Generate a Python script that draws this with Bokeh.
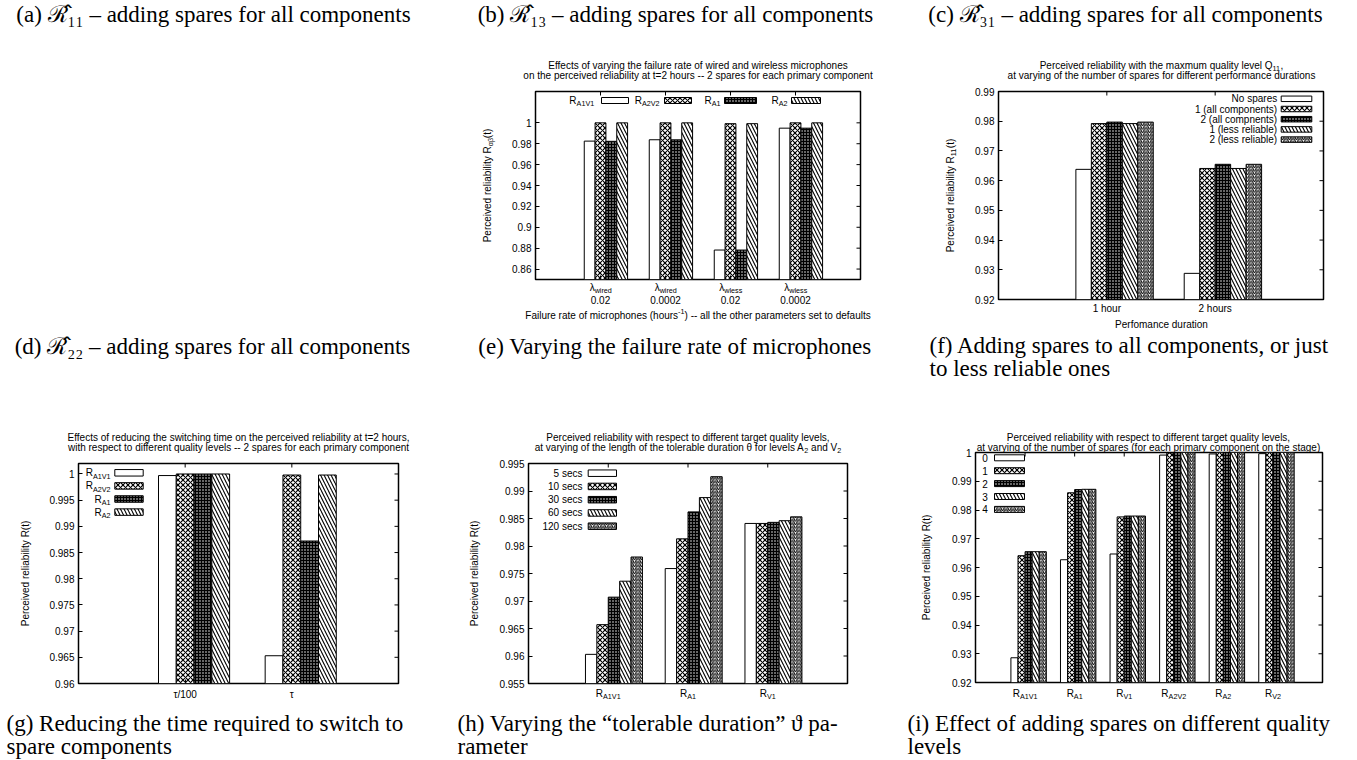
import math
from bokeh.plotting import figure
from bokeh.layouts import column, row
from bokeh.models import Range1d, Label, LinearAxis, FixedTicker, NumeralTickFormatter, Spacer
from bokeh.embed import file_html
from bokeh.resources import INLINE

SANS = "Liberation Sans"
SERIF = "Liberation Serif"

# ---------------- data ----------------
# (e) failure rate of microphones
e_rate_kind = ["wired", "wired", "wless", "wless"]
e_rate_value = ["0.02", "0.0002", "0.02", "0.0002"]
e_R_A1V1 = [0.9825, 0.9838, 0.8782, 0.9949]
e_R_A2V2 = [0.99998, 0.99998, 0.9992, 0.99998]
e_R_A1 = [0.9823, 0.9837, 0.8782, 0.9949]
e_R_A2 = [0.99998, 0.99998, 0.9992, 0.99998]
e_series_sub = ["A1V1", "A2V2", "A1", "A2"]
e_yticks = [0.86, 0.88, 0.9, 0.92, 0.94, 0.96, 0.98, 1.0]

# (f) spares for all / less reliable components
f_durations = ["1 hour", "2 hours"]
f_no_spares = [0.9638, 0.9288]
f_one_all = [0.9792, 0.9641]
f_two_all = [0.9797, 0.9655]
f_one_less = [0.9792, 0.9641]
f_two_less = [0.9797, 0.9655]
f_series = ["No spares", "1 (all components)", "2 (all compnents)", "1 (less reliable)", "2 (less reliable)"]
f_yticks = [0.92, 0.93, 0.94, 0.95, 0.96, 0.97, 0.98, 0.99]

# (g) switching time
g_switch = ["\u03c4/100", "\u03c4"]
g_R_A1V1 = [0.9997, 0.9653]
g_R_A2V2 = [1.0, 0.9998]
g_R_A1 = [1.0, 0.9872]
g_R_A2 = [1.0, 0.9998]
g_series_sub = ["A1V1", "A2V2", "A1", "A2"]
g_yticks = [0.96, 0.965, 0.97, 0.975, 0.98, 0.985, 0.99, 0.995, 1.0]

# (h) tolerable duration
h_levels_sub = ["A1V1", "A1", "V1"]
h_5 = [0.9603, 0.9759, 0.9841]
h_10 = [0.9657, 0.9813, 0.9841]
h_30 = [0.9707, 0.9862, 0.9843]
h_60 = [0.9736, 0.9888, 0.9846]
h_120 = [0.9780, 0.9926, 0.9853]
h_series = ["5 secs", "10 secs", "30 secs", "60 secs", "120 secs"]
h_yticks = [0.955, 0.96, 0.965, 0.97, 0.975, 0.98, 0.985, 0.99, 0.995]

# (i) number of spares per quality level
i_levels_sub = ["A1V1", "A1", "V1", "A2V2", "A2", "V2"]
i_0 = [0.9286, 0.9627, 0.9647, 0.9991, 0.9995, 0.9996]
i_1 = [0.9641, 0.9860, 0.9776, 0.9998, 0.99998, 0.99998]
i_2 = [0.9655, 0.9871, 0.9779, 1.0, 1.0, 1.0]
i_3 = [0.9655, 0.9872, 0.9779, 1.0, 1.0, 1.0]
i_4 = [0.9655, 0.9872, 0.9779, 1.0, 1.0, 1.0]
i_series = ["0", "1", "2", "3", "4"]
i_yticks = [0.92, 0.93, 0.94, 0.95, 0.96, 0.97, 0.98, 0.99, 1.0]

# ---------------- styles ----------------
STY = [
    dict(fill_color="white"),
    dict(fill_color="white", hatch_pattern="diagonal_cross", hatch_color="black", hatch_scale=5, hatch_weight=1.2),
    dict(fill_color="black", hatch_pattern="dot", hatch_color="white", hatch_scale=3, hatch_weight=1.0),
    dict(fill_color="white", hatch_pattern="left_diagonal_line", hatch_color="black", hatch_scale=7, hatch_weight=1.1),
    dict(fill_color="white", hatch_pattern="right_diagonal_line", hatch_color="black", hatch_scale=3.5, hatch_weight=1.0),
]

CW = {' ': .278, '\u00a0': .278, '(': .333, ')': .333, '.': .278, ',': .278, '-': .333, '=': .584, '/': .278,
      'A': .667, 'V': .667, 'R': .722, 'P': .667, 'Q': .778, 'F': .611,
      'a': .556, 'b': .556, 'c': .5, 'd': .556, 'e': .556, 'f': .278, 'g': .556, 'h': .556,
      'i': .222, 'j': .222, 'k': .5, 'l': .222, 'm': .833, 'n': .556, 'o': .556, 'p': .556,
      'q': .556, 'r': .333, 's': .5, 't': .278, 'u': .556, 'v': .5, 'w': .722, 'x': .5,
      'y': .5, 'z': .5}


def text_w(s, size):
    return sum(CW.get(c, 0.556) for c in s) * size


def base_fig(w, h, xr, yr, bl, br, bt, bb):
    p = figure(width=w, height=h, x_range=Range1d(*xr), y_range=Range1d(*yr),
               min_border_left=bl, min_border_right=br, min_border_top=bt, min_border_bottom=bb,
               toolbar_location=None, output_backend="svg", x_axis_type=None, y_axis_type=None)
    try:
        p.frame_align = False
    except Exception:
        pass
    return p


class Panel:
    """A chart cell; fl/fr/ft/fb are the frame edges in page pixels."""
    def __init__(self, fx0, fy0, w, h, fl, fr, ft, fb, xr, yr):
        self.fl, self.fr, self.ft, self.fb = fl, fr, ft, fb
        self.xr, self.yr = xr, yr
        self.p = base_fig(w, h, xr, yr, fl - fx0, fx0 + w - fr, ft - fy0, fy0 + h - fb)
        self.p.outline_line_color = "black"
        self.p.outline_line_width = 1.5
        self.p.background_fill_color = "white"
        self.p.border_fill_color = "white"

    def dx(self, px):
        return self.xr[0] + (px - self.fl) / (self.fr - self.fl) * (self.xr[1] - self.xr[0])

    def dy(self, py):
        return self.yr[0] + (self.fb - py) / (self.fb - self.ft) * (self.yr[1] - self.yr[0])

    def tick_px(self, i):
        return self.fl + (i - self.xr[0]) / (self.xr[1] - self.xr[0]) * (self.fr - self.fl)


class Page:
    """Full-page transparent text layer: data units == page pixels."""
    def __init__(self):
        p = figure(width=1357, height=760, x_range=Range1d(0, 1357), y_range=Range1d(760, 0),
                   min_border=0, toolbar_location=None, output_backend="svg",
                   x_axis_type=None, y_axis_type=None)
        p.outline_line_color = None
        p.background_fill_color = None
        p.border_fill_color = None
        try:
            p.frame_align = False
        except Exception:
            pass
        self.p = p

    def dx(self, px):
        return px

    def dy(self, py):
        return py


def put(L, px, py, text, size=10, align="center", baseline="middle", angle=0.0, font=SANS):
    L.p.add_layout(Label(x=L.dx(px), y=L.dy(py), text=text, text_font=font,
                         text_font_size=f"{size:.1f}px", text_align=align,
                         text_baseline=baseline, angle=angle, text_color="black"))


def rich(L, px, py, parts, size=10, align="center", angle=0.0):
    """Text with sub/superscripts; the first piece is right-aligned at its end,
    the following pieces are left-aligned after it, so width errors do not open gaps."""
    sizes = {"n": size, "sub": size * 0.72, "sup": size * 0.72}
    shifts = {"n": 0.0, "sub": size * 0.32, "sup": -size * 0.38}
    parts = [(t.replace(" ", "\u00a0") if t.startswith(" ") else t, k) for t, k in parts]
    widths = [text_w(t, sizes[k]) for t, k in parts]
    W = sum(widths)
    u0 = {"left": 0.0, "center": -W / 2, "right": -W}[align]
    ax, ay = math.cos(angle), -math.sin(angle)
    nx, ny = math.sin(angle), math.cos(angle)
    u = u0 + widths[0]
    t, k = parts[0]
    put(L, px + ax * u + nx * shifts[k], py + ay * u + ny * shifts[k], t, sizes[k],
        align="right", baseline="middle", angle=angle)
    for (t, k), w in zip(parts[1:], widths[1:]):
        put(L, px + ax * u + nx * shifts[k], py + ay * u + ny * shifts[k], t, sizes[k],
            align="left", baseline="middle", angle=angle)
        u += w


def axes(P, yticks, nx, xlabels=None, xstandoff=3):
    p = P.p
    common = dict(axis_line_color=None, major_tick_in=4, major_tick_out=0,
                  minor_tick_line_color=None, major_tick_line_color="black",
                  major_label_text_font=SANS, major_label_text_color="black",
                  major_label_text_font_size="10px")
    p.add_layout(LinearAxis(ticker=FixedTicker(ticks=yticks), formatter=NumeralTickFormatter(format="0.[000]"),
                            major_label_standoff=4, **common), "left")
    if xlabels:
        bx = LinearAxis(ticker=FixedTicker(ticks=list(range(nx))), major_label_standoff=xstandoff, **common)
        bx.major_label_overrides = {i: t for i, t in enumerate(xlabels)}
        p.add_layout(bx, "below")


def mirror_ticks(P, yticks, nx, bottom=True):
    p = P.p
    p.scatter(x=[P.xr[1]] * len(yticks), y=yticks, marker="dash", size=8, line_color="black", line_width=1)
    xs = list(range(nx))
    p.scatter(x=xs, y=[P.yr[1]] * nx, marker="dash", angle=math.pi / 2, size=8, line_color="black", line_width=1)
    if bottom:
        p.scatter(x=xs, y=[P.yr[0]] * nx, marker="dash", angle=math.pi / 2, size=8, line_color="black", line_width=1)


def bars(P, series_values):
    n = len(series_values)
    bw = 1.0 / (n + 2)
    for j, vals in enumerate(series_values):
        xs = [i + bw / 2 + (j - (n - 1) / 2) * bw for i in range(len(vals))]
        P.p.vbar(x=xs, top=vals, bottom=P.yr[0], width=bw, line_color="black", line_width=1, **STY[j])


def swatch(P, j, bx0, bx1, y, bh):
    P.p.quad(left=P.dx(bx0), right=P.dx(bx1), top=P.dy(y - bh / 2), bottom=P.dy(y + bh / 2),
             line_color="black", line_width=1, **STY[j])


CAP = 23
T = Page()

# ---------------- captions of the empty cells ----------------
put(T, 213, 14, "(a) \u211b\u0302\u2081\u2081 \u2013 adding spares for all components", CAP, font=SERIF)
put(T, 212, 346, "(d) \u211b\u0302\u2082\u2082 \u2013 adding spares for all components", CAP, font=SERIF)

# ---------------- (e) ----------------
E = Panel(452, 0, 452, 392, 535, 860, 91, 279, (-1, len(e_rate_kind)), (0.85, 1.03))
axes(E, e_yticks, len(e_rate_kind))
bars(E, [e_R_A1V1, e_R_A2V2, e_R_A1, e_R_A2])
mirror_ticks(E, e_yticks, len(e_rate_kind))
for j, (lab, tend, b0, b1) in enumerate(zip(e_series_sub, [593.7, 659, 720, 787],
                                              [601, 664, 724, 791], [628, 691, 756, 820])):
    rich(E, tend, 100, [("R", "n"), (lab, "sub")], align="right")
    swatch(E, j, b0, b1, 100, 6)
put(T, 697.5, 64.5, "Effects of varying the failure rate of wired and wireless microphones")
put(T, 697.5, 74.5, "on the perceived reliability at t=2 hours -- 2 spares for each primary component")
rich(T, 487, 185, [("Perceived reliability R", "n"), ("\u03b1\u03b2", "sub"), ("(t)", "n")], angle=math.pi / 2)
for i, (k, v) in enumerate(zip(e_rate_kind, e_rate_value)):
    tx = E.tick_px(i)
    rich(T, tx, 287, [("\u03bb", "n"), (k, "sub")])
    put(T, tx, 299, v)
rich(T, 697.5, 315, [("Failure rate of microphones (hours", "n"), ("-1", "sup"),
                     (") -- all the other parameters set to defaults", "n")])
put(T, 675, 14, "(b) \u211b\u0302\u2081\u2083 \u2013 adding spares for all components", CAP, font=SERIF)
put(T, 674.5, 346, "(e) Varying the failure rate of microphones", CAP, font=SERIF)

# ---------------- (f) ----------------
F = Panel(904, 0, 453, 392, 998, 1323, 91, 299, (-1, len(f_durations)), (0.92, 0.99))
axes(F, f_yticks, len(f_durations), xlabels=f_durations, xstandoff=3)
bars(F, [f_no_spares, f_one_all, f_two_all, f_one_less, f_two_less])
mirror_ticks(F, f_yticks, len(f_durations), bottom=False)
for j, lab in enumerate(f_series):
    y = 98.3 + 10.2 * j
    put(F, 1276.7, y, lab, align="right")
    swatch(F, j, 1280.7, 1311.3, y, 5.5)
rich(T, 1161, 64.5, [("Perceived reliability with the maxmum quality level Q", "n"), ("11", "sub"), (",", "n")])
put(T, 1161, 74.5, "at varying of the number of spares for different performance durations")
rich(T, 950, 195, [("Perceived reliability R", "n"), ("11", "sub"), ("(t)", "n")], angle=math.pi / 2)
put(T, 1161, 323.5, "Perfomance duration")
put(T, 1125, 14, "(c) \u211b\u0302\u2083\u2081 \u2013 adding spares for all components", CAP, font=SERIF)
put(T, 929, 345, "(f) Adding spares to all components, or just", CAP, align="left", font=SERIF)
put(T, 929, 368, "to less reliable ones", CAP, align="left", font=SERIF)

# ---------------- (g) ----------------
G = Panel(0, 392, 452, 368, 78, 398, 463, 683, (-1, len(g_switch)), (0.96, 1.002))
axes(G, g_yticks, len(g_switch), xlabels=g_switch, xstandoff=5)
bars(G, [g_R_A1V1, g_R_A2V2, g_R_A1, g_R_A2])
mirror_ticks(G, g_yticks, len(g_switch), bottom=False)
for j, lab in enumerate(g_series_sub):
    y = 472.3 + 13.1 * j
    rich(G, 110, y, [("R", "n"), (lab, "sub")], align="right")
    swatch(G, j, 114.3, 142.7, y, 6.5)
put(T, 238, 437, "Effects of reducing the switching time on the perceived reliability at t=2 hours,")
put(T, 238, 447.3, "with respect to different quality levels -- 2 spares for each primary component")
put(T, 25, 573, "Perceived reliability R(t)", angle=math.pi / 2)
put(T, 6, 723, "(g) Reducing the time required to switch to", CAP, align="left", font=SERIF)
put(T, 6, 746, "spare components", CAP, align="left", font=SERIF)

# ---------------- (h) ----------------
H = Panel(452, 392, 452, 368, 528, 847, 463, 683, (-1, len(h_levels_sub)), (0.955, 0.995))
axes(H, h_yticks, len(h_levels_sub))
bars(H, [h_5, h_10, h_30, h_60, h_120])
mirror_ticks(H, h_yticks, len(h_levels_sub))
for j, lab in enumerate(h_series):
    y = 472.7 + 13.25 * j
    put(H, 582, y, lab, align="right")
    swatch(H, j, 587.7, 616, y, 6.5)
put(T, 687.5, 437, "Perceived reliability with respect to different target quality levels,")
rich(T, 687.5, 447, [("at varying of the length of the tolerable duration \u03b8 for levels A", "n"), ("2", "sub"),
                     (" and V", "n"), ("2", "sub")])
put(T, 473.5, 573, "Perceived reliability R(t)", angle=math.pi / 2)
for i, lab in enumerate(h_levels_sub):
    rich(T, H.tick_px(i), 693, [("R", "n"), (lab, "sub")])
put(T, 457, 723, "(h) Varying the \u201ctolerable duration\u201d \u03d1 pa-", CAP, align="left", font=SERIF)
put(T, 457, 746, "rameter", CAP, align="left", font=SERIF)

# ---------------- (i) ----------------
I = Panel(904, 392, 453, 368, 975, 1322, 452, 682, (-1, len(i_levels_sub)), (0.92, 1.0))
axes(I, i_yticks, len(i_levels_sub))
bars(I, [i_0, i_1, i_2, i_3, i_4])
mirror_ticks(I, i_yticks, len(i_levels_sub))
for j, lab in enumerate(i_series):
    y = 457.3 + 12.9 * j
    put(I, 987.3, y, lab, align="right")
    swatch(I, j, 994, 1024, y, 6)
put(T, 1148, 436.5, "Perceived reliability with respect to different target quality levels,")
put(T, 1148, 446.5, "at varying of the number of spares (for each primary component on the stage)")
put(T, 925.5, 567, "Perceived reliability R(t)", angle=math.pi / 2)
for i, lab in enumerate(i_levels_sub):
    rich(T, I.tick_px(i), 692.7, [("R", "n"), (lab, "sub")])
put(T, 907, 723, "(i) Effect of adding spares on different quality", CAP, align="left", font=SERIF)
put(T, 907, 746, "levels", CAP, align="left", font=SERIF)

charts = column(row(Spacer(width=452, height=392), E.p, F.p), row(G.p, H.p, I.p))
T.p.margin = (-760, 0, 0, 0)
layout = column(charts, T.p)
open("out.html", "w").write(file_html(layout, INLINE))
